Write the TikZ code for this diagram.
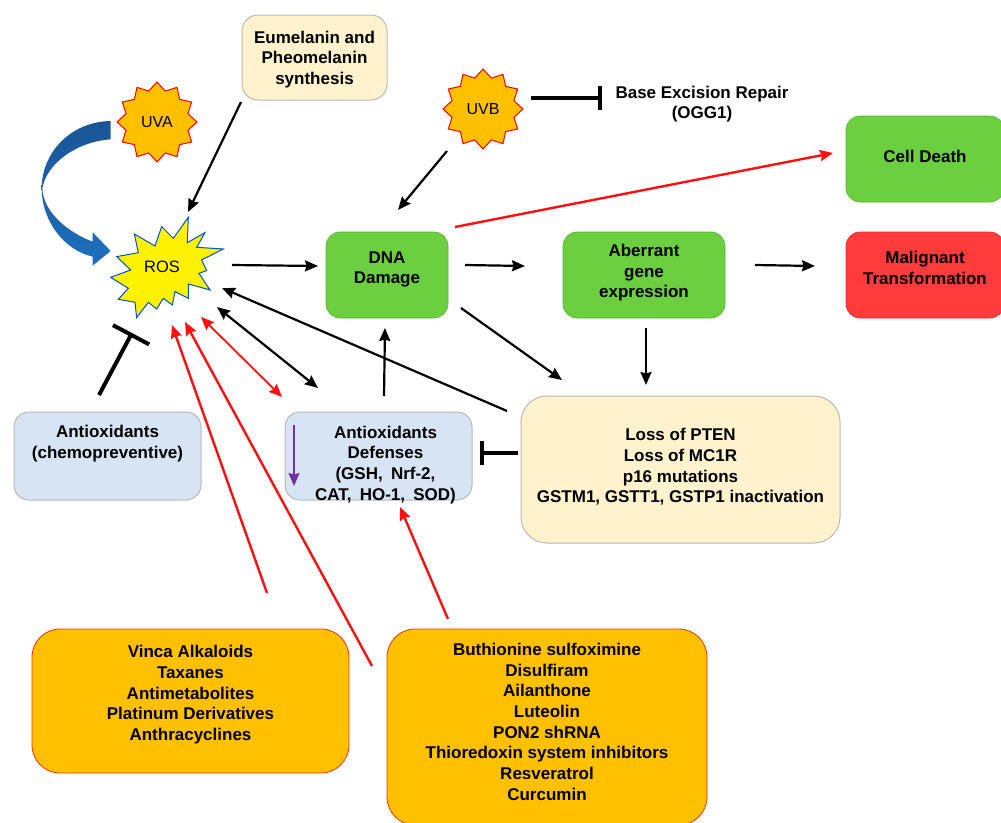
\documentclass[tikz,border=0pt]{standalone}
\usepackage{fontspec}
\setmainfont{Liberation Sans}
\usetikzlibrary{arrows.meta,shapes.geometric}
\definecolor{grn}{HTML}{6CCF3F}
\definecolor{rd}{HTML}{FF3B3B}
\definecolor{crm}{HTML}{FFF2CC}
\definecolor{lblue}{HTML}{D7E4F3}
\definecolor{org}{HTML}{FFC000}
\definecolor{redline}{HTML}{FF1010}
\definecolor{purp}{HTML}{7030A0}
\definecolor{bluetop}{HTML}{1B5597}
\definecolor{bluebot}{HTML}{1E6FBF}
\newcommand\tailsp[1]{\\[#1pt]\mbox{}}
\newcommand\headsp[1]{\mbox{}\\[#1pt]}
\tikzset{
  lbl/.style={font=\fontsize{17}{20.7}\selectfont\bfseries,align=center,text=black},
  box/.style={lbl,rectangle,inner sep=0pt,anchor=center},
  greenbox/.style={box,fill=grn,draw=grn!85!black,line width=.6pt,rounded corners=14pt,minimum height=86pt},
  redbox/.style={box,fill=rd,draw=rd!85!black,line width=.6pt,rounded corners=14pt,minimum height=86pt},
  creambox/.style={box,fill=crm,draw=black!28,line width=1pt},
  bluebox/.style={box,fill=lblue,draw=black!28,line width=1pt,rounded corners=15pt,minimum width=187pt,minimum height=88pt},
  drugbox/.style={box,fill=org,draw=red!75!org,line width=.8pt,rounded corners=28pt},
  sun/.style={star,star points=12,star point ratio=1.25,minimum size=80pt,inner sep=0pt,fill=org,draw=red,line width=1pt,font=\fontsize{16}{18}\selectfont,text=black},
  arr/.style={draw=black,line width=2.2pt,-{Stealth[length=13pt,width=11pt,inset=1.5pt]}},
  rarr/.style={draw=redline,line width=2.4pt,-{Stealth[length=13pt,width=11pt,inset=1.5pt]}},
  tbar/.style={draw=black,line width=4pt,-{Bar[width=24pt,line width=4pt]}},
}
\begin{document}
\begin{tikzpicture}[x=1pt,y=-1pt]
\useasboundingbox (0,0) rectangle (1001,822);
\clip (0,0) rectangle (1001,822);
% nodes
\node[creambox,rounded corners=16pt,minimum width=145pt,minimum height=85pt] (euml) at (314.5,57.5) {\headsp{-4.2}Eumelanin and\\Pheomelanin\\synthesis};
\node[sun] (uva) at (157,122) {UVA};
\node[sun] (uvb) at (483,109) {UVB};
\node[lbl] (base) at (702,104) {Base Excision Repair\\(OGG1)};
\node[greenbox,minimum width=158pt] (cell) at (925,159) {Cell Death\tailsp{-14.7}};
\node[greenbox,minimum width=122pt] (dna) at (387,275) {DNA\\Damage\tailsp{-5.7}};
\node[greenbox,minimum width=162pt] (aber) at (644,275) {Aberrant\\gene\\expression\tailsp{-12.7}};
\node[redbox,minimum width=158pt] (malig) at (925,275) {Malignant\\Transformation\tailsp{-6.7}};
\node[bluebox] (chem) at (107.5,456) {Antioxidants\\(chemopreventive)\tailsp{7.3}};
\node[bluebox] (def) at (378.5,456) {\headsp{-1.2}\hspace*{14pt}Antioxidants\\\hspace*{14pt}Defenses\\\hspace*{14pt}(GSH,\hspace{3.5pt} Nrf-2,\\\hspace*{14pt}CAT,\hspace{3.5pt} HO-1,\hspace{3.5pt} SOD)\tailsp{-27.7}};
\node[creambox,rounded corners=26pt,minimum width=319pt,minimum height=147pt] (loss) at (680.5,469.5) {Loss of PTEN\\Loss of MC1R\\p16 mutations\\GSTM1, GSTT1, GSTP1 inactivation\hspace*{6pt}\tailsp{-12.7}};
\node[drugbox,minimum width=317pt,minimum height=144pt] (vinca) at (190.5,701) {Vinca Alkaloids\\Taxanes\\Antimetabolites\\Platinum Derivatives\\Anthracyclines\tailsp{-4.7}};
\node[drugbox,minimum width=320pt,minimum height=196pt] (buth) at (547,727) {Buthionine sulfoximine\\Disulfiram\\Ailanthone\\Luteolin\\PON2 shRNA\\Thioredoxin system inhibitors\\Resveratrol\\Curcumin\tailsp{-10}};
% ROS burst
\begin{scope}[shift={(0,60)},x=.3333pt,y=-.3333pt]
\draw[fill=yellow,draw=blue!60!cyan!80!black,line width=1pt,line join=miter]
 (565,472)--(562,548)--(615,518)--(590,562)--(670,567)--(605,600)--(620,632)--(597,640)--(630,690)--(565,672)--(565,715)--(525,695)--(517,735)--(490,715)--(470,747)--(445,727)--(410,773)--(405,727)--(355,718)--(385,685)--(332,652)--(392,630)--(350,590)--(415,578)--(403,522)--(465,558)--(485,500)--(520,535)--cycle;
% curved UVA arrow
\shade[top color=bluetop,bottom color=bluebot,draw=none]
 (332,183) .. controls (210,185) and (125,280) .. (125,385)
 .. controls (125,480) and (190,570) .. (278,590) -- (278,617) -- (332,573) -- (278,517) -- (278,545)
 .. controls (210,520) and (130,460) .. (127,385)
 .. controls (140,310) and (230,245) .. (332,238) -- cycle;
\end{scope}
\node[font=\fontsize{16.5}{18}\selectfont,text=black,inner sep=0pt] (ros) at (162,267) {ROS};
% connectors
\draw[arr] ([shift={(-73.5,44.5)}]euml.center) -- ([shift={(26,-55)}]ros.center);
\draw[arr] ([shift={(-36,42)}]uvb.center) -- ([shift={(11,-65)}]dna.center);
\draw[tbar] ([shift={(48,-11)}]uvb.center) -- ([shift={(-100,-6)}]base.center);
\draw[rarr] ([shift={(68,-48)}]dna.center) -- ([shift={(-92,-6)}]cell.center);
\draw[arr] ([shift={(70,-2)}]ros.center) -- ([shift={(-69,-9)}]dna.center);
\draw[arr] ([shift={(78,-10)}]dna.center) -- ([shift={(-119,-9)}]aber.center);
\draw[arr] ([shift={(111,-10)}]aber.center) -- ([shift={(-110,-9)}]malig.center);
\draw[arr] ([shift={(74,33)}]dna.center) -- ([shift={(-118.5,-89.5)}]loss.center);
\draw[arr] ([shift={(2,53)}]aber.center) -- ([shift={(-34.5,-84.5)}]loss.center);
\draw[arr] ([shift={(5.5,-60)}]def.center) -- ([shift={(-2,53)}]dna.center);
\draw[arr] ([shift={(-173.5,-58.5)}]loss.center) -- ([shift={(60,21)}]ros.center);
\draw[arr,{Stealth[length=13pt,width=11pt,inset=1.5pt]}-{Stealth[length=13pt,width=11pt,inset=1.5pt]}] ([shift={(55,40)}]ros.center) -- ([shift={(-60.5,-68)}]def.center);
\draw[rarr,line width=1.8pt,{Stealth[length=13pt,width=11pt,inset=1.5pt]}-{Stealth[length=13pt,width=11pt,inset=1.5pt]}] ([shift={(39,50)}]ros.center) -- ([shift={(-96.5,-59)}]def.center);
\draw[rarr] ([shift={(76.5,-108)}]vinca.center) -- ([shift={(10,58)}]ros.center);
\draw[rarr] ([shift={(-175,-61)}]buth.center) -- ([shift={(23,55)}]ros.center);
\draw[rarr] ([shift={(-99,-108)}]buth.center) -- ([shift={(21.5,51)}]def.center);
\draw[tbar,-{Bar[width=41pt,line width=4pt]}] ([shift={(-8.5,-61)}]chem.center) -- ([shift={(-30,66)}]ros.center);
\draw[tbar] ([shift={(-162.5,-16.5)}]loss.center) -- ([shift={(101.5,-3)}]def.center);
\draw[draw=purp,line width=1.6pt,-{Stealth[length=13pt,width=11pt,inset=1.5pt]}] ([shift={(-84.5,-31)}]def.center) -- ([shift={(-84.5,30)}]def.center);
\end{tikzpicture}
\end{document}
